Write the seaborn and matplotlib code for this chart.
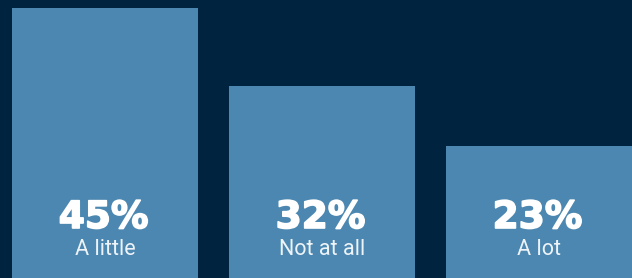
import matplotlib
matplotlib.use("Agg")
import matplotlib.pyplot as plt
import matplotlib.patheffects as pe
import pandas as pd
import seaborn as sns

# survey answers, bar heights as drawn, and the printed shares
categories = ["A little", "Not at all", "A lot"]
heights = [45.0, 32.0, 22.0]
share_labels = ["45%", "32%", "23%"]

BG = "#00243f"
BAR = "#4b87b0"

df = pd.DataFrame({"answer": categories, "share": heights})

sns.set_theme(style="white")
fig = plt.figure(figsize=(6.32, 2.78), dpi=100, facecolor=BG)
ax = fig.add_axes([0, 0, 1, 1])
ax.set_facecolor(BG)

sns.barplot(data=df, x="answer", y="share", color=BAR, saturation=1,
            width=0.857, linewidth=0, edgecolor=BAR, ax=ax)

ax.set_xlim(-0.484, 2.429)
ax.set_ylim(0, 46.3)
ax.set_axis_off()

for i, (cat, lab) in enumerate(zip(categories, share_labels)):
    ax.annotate(lab, xy=(i, 0), xytext=(-1, 36), textcoords="offset points",
                ha="center", va="baseline", color="white", fontsize=27,
                fontweight="bold", family="DejaVu Sans",
                path_effects=[pe.withStroke(linewidth=1.2, foreground="white")])
    ax.annotate(cat, xy=(i, 0), xytext=(0, 16.5), textcoords="offset points",
                ha="center", va="baseline", color="#eef3f8", fontsize=15.5,
                fontweight="normal", family="Roboto")

fig.savefig("out.png", dpi=100, facecolor=BG)
